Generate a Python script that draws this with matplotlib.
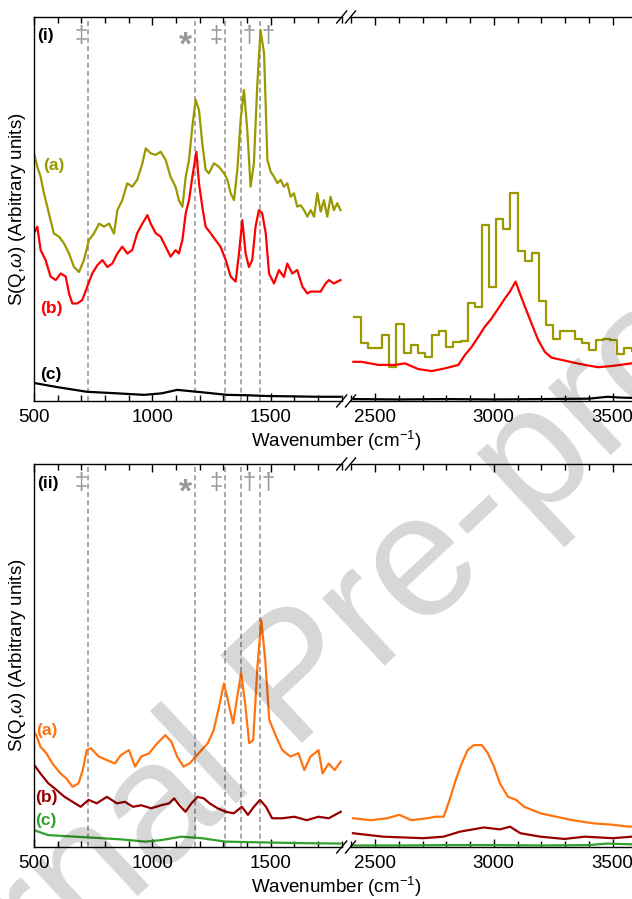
import matplotlib
matplotlib.use("Agg")
import matplotlib.pyplot as plt
from matplotlib.lines import Line2D
from matplotlib.ticker import MultipleLocator

plt.rcParams['font.family'] = ['Liberation Sans', 'DejaVu Sans']
plt.rcParams['mathtext.fontset'] = 'custom'
plt.rcParams['mathtext.rm'] = 'Liberation Sans'
plt.rcParams['mathtext.it'] = 'Liberation Sans:italic'

# ---- panel (i), 500-1800 cm-1 ----
x_i_a = [500, 514, 528, 542, 556, 570, 584, 606, 627, 648, 669, 690, 711, 732, 753, 775, 796,
         817, 838, 852, 873, 894, 915, 936, 958, 972, 993, 1014, 1035, 1056, 1077, 1098, 1112,
         1127, 1141, 1155, 1169, 1183, 1197, 1211, 1225, 1239, 1260, 1281, 1303, 1317, 1331,
         1345, 1359, 1373, 1387, 1401, 1415, 1429, 1443, 1457, 1472, 1486, 1500, 1514, 1528,
         1542, 1556, 1570, 1584, 1598, 1612, 1626, 1641, 1655, 1669, 1683, 1697, 1711, 1725,
         1739, 1753, 1767, 1781, 1795]
y_i_a = [0.645, 0.610, 0.584, 0.541, 0.506, 0.471, 0.436, 0.428, 0.410, 0.384, 0.349, 0.336,
         0.367, 0.419, 0.436, 0.462, 0.454, 0.462, 0.436, 0.497, 0.523, 0.567, 0.558, 0.576,
         0.619, 0.658, 0.645, 0.641, 0.649, 0.628, 0.584, 0.558, 0.523, 0.506, 0.584, 0.628,
         0.715, 0.784, 0.758, 0.671, 0.602, 0.593, 0.619, 0.610, 0.593, 0.576, 0.541, 0.523,
         0.602, 0.732, 0.810, 0.706, 0.558, 0.619, 0.819, 0.966, 0.905, 0.628, 0.597, 0.584,
         0.567, 0.576, 0.558, 0.567, 0.532, 0.541, 0.506, 0.510, 0.497, 0.480, 0.497, 0.480,
         0.541, 0.493, 0.523, 0.480, 0.532, 0.497, 0.515, 0.497]

x_i_b = [500, 514, 528, 549, 570, 592, 613, 634, 648, 662, 683, 704, 725, 746, 768, 789, 810,
         831, 852, 873, 894, 915, 936, 958, 979, 993, 1014, 1035, 1056, 1077, 1098, 1112, 1127,
         1141, 1155, 1169, 1186, 1197, 1211, 1225, 1246, 1267, 1288, 1310, 1331, 1352, 1366,
         1380, 1394, 1408, 1422, 1436, 1450, 1464, 1479, 1493, 1514, 1535, 1556, 1570, 1591,
         1612, 1634, 1655, 1669, 1690, 1711, 1732, 1746, 1767, 1795]
y_i_b = [0.437, 0.454, 0.393, 0.367, 0.324, 0.315, 0.332, 0.324, 0.280, 0.254, 0.254, 0.263,
         0.298, 0.332, 0.354, 0.367, 0.349, 0.358, 0.384, 0.402, 0.384, 0.393, 0.437, 0.462,
         0.484, 0.462, 0.437, 0.428, 0.402, 0.376, 0.393, 0.384, 0.419, 0.489, 0.523, 0.584,
         0.649, 0.567, 0.506, 0.454, 0.437, 0.419, 0.402, 0.367, 0.324, 0.311, 0.384, 0.471,
         0.384, 0.349, 0.367, 0.454, 0.497, 0.489, 0.437, 0.332, 0.306, 0.341, 0.323, 0.358,
         0.332, 0.341, 0.298, 0.280, 0.285, 0.285, 0.285, 0.306, 0.315, 0.306, 0.315]

x_i_c = [500, 600, 724, 850, 965, 1040, 1105, 1205, 1315, 1400, 1484, 1600, 1700, 1795]
y_i_c = [0.047, 0.036, 0.024, 0.020, 0.016, 0.020, 0.029, 0.023, 0.016, 0.015, 0.013, 0.012,
         0.011, 0.011]

# ---- panel (i), 2400-3600 cm-1 ----
bins_i_a = [2410 + 30 * k for k in range(41)]
vals_i_a = [0.220, 0.152, 0.137, 0.137, 0.173, 0.089, 0.200, 0.124, 0.146, 0.126, 0.114,
            0.171, 0.183, 0.141, 0.154, 0.157, 0.256, 0.244, 0.458, 0.296, 0.473, 0.448,
            0.541, 0.391, 0.365, 0.386, 0.260, 0.197, 0.161, 0.182, 0.182, 0.161, 0.150,
            0.133, 0.159, 0.162, 0.159, 0.122, 0.139, 0.130, 0.135]

x_i_b2 = [2409, 2444, 2514, 2584, 2626, 2683, 2739, 2795, 2851, 2879, 2907, 2935, 2963, 2991,
          3019, 3047, 3068, 3092, 3110, 3131, 3159, 3187, 3215, 3243, 3286, 3328, 3384, 3440,
          3496, 3580, 3650]
y_i_b2 = [0.102, 0.102, 0.094, 0.094, 0.098, 0.083, 0.078, 0.085, 0.094, 0.120, 0.141, 0.167,
          0.194, 0.215, 0.241, 0.267, 0.285, 0.311, 0.280, 0.246, 0.202, 0.159, 0.128, 0.113,
          0.107, 0.101, 0.094, 0.088, 0.091, 0.098, 0.100]

x_i_c2 = [2410, 2600, 2800, 3000, 3200, 3400, 3480, 3530, 3650]
y_i_c2 = [0.005, 0.004, 0.005, 0.004, 0.005, 0.006, 0.011, 0.009, 0.007]

# ---- panel (ii), 500-1800 cm-1 ----
x_ii_a = [500, 510, 527, 552, 578, 612, 637, 663, 688, 706, 723, 740, 774, 808, 842, 867, 901,
          927, 953, 987, 1021, 1055, 1080, 1105, 1131, 1157, 1183, 1208, 1234, 1259, 1285,
          1302, 1319, 1341, 1361, 1375, 1392, 1409, 1426, 1443, 1460, 1477, 1494, 1523, 1549,
          1583, 1617, 1642, 1668, 1702, 1719, 1745, 1770, 1796]
y_ii_a = [0.300, 0.292, 0.262, 0.245, 0.218, 0.192, 0.179, 0.157, 0.166, 0.201, 0.253, 0.258,
          0.236, 0.227, 0.218, 0.240, 0.253, 0.210, 0.236, 0.245, 0.271, 0.292, 0.275, 0.236,
          0.210, 0.218, 0.236, 0.253, 0.271, 0.305, 0.375, 0.427, 0.384, 0.323, 0.401, 0.454,
          0.375, 0.271, 0.279, 0.462, 0.593, 0.488, 0.332, 0.288, 0.253, 0.236, 0.245, 0.201,
          0.236, 0.253, 0.192, 0.218, 0.201, 0.223]

x_ii_b = [500, 506, 527, 561, 595, 629, 663, 697, 731, 765, 808, 850, 884, 918, 953, 995, 1037,
          1071, 1092, 1114, 1140, 1165, 1191, 1217, 1242, 1276, 1310, 1344, 1378, 1404, 1429,
          1455, 1480, 1506, 1549, 1600, 1652, 1702, 1745, 1796]
y_ii_b = [0.215, 0.210, 0.192, 0.166, 0.149, 0.131, 0.118, 0.105, 0.123, 0.114, 0.131, 0.114,
          0.118, 0.105, 0.109, 0.101, 0.109, 0.114, 0.127, 0.109, 0.092, 0.114, 0.131, 0.127,
          0.114, 0.101, 0.092, 0.088, 0.105, 0.084, 0.105, 0.123, 0.105, 0.075, 0.075, 0.079,
          0.070, 0.079, 0.075, 0.092]

x_ii_c = [500, 560, 731, 867, 970, 1037, 1123, 1208, 1310, 1463, 1635, 1795]
y_ii_c = [0.044, 0.031, 0.025, 0.020, 0.014, 0.018, 0.027, 0.023, 0.014, 0.012, 0.010, 0.009]

# ---- panel (ii), 2400-3600 cm-1 ----
x_ii_a2 = [2407, 2483, 2551, 2602, 2653, 2720, 2755, 2789, 2814, 2840, 2865, 2890, 2916, 2950,
           2975, 3001, 3026, 3060, 3094, 3128, 3196, 3264, 3332, 3417, 3502, 3569, 3650]
y_ii_a2 = [0.075, 0.070, 0.075, 0.084, 0.070, 0.075, 0.079, 0.079, 0.123, 0.175, 0.218, 0.253,
           0.266, 0.266, 0.245, 0.210, 0.166, 0.131, 0.123, 0.105, 0.088, 0.079, 0.070, 0.062,
           0.058, 0.053, 0.055]

x_ii_b2 = [2407, 2534, 2704, 2789, 2857, 2958, 3026, 3069, 3112, 3196, 3298, 3383, 3502, 3582,
           3650]
y_ii_b2 = [0.036, 0.027, 0.023, 0.027, 0.040, 0.051, 0.046, 0.053, 0.036, 0.027, 0.021, 0.027,
           0.023, 0.027, 0.027]

x_ii_c2 = [2410, 2600, 2800, 3000, 3200, 3400, 3480, 3520, 3650]
y_ii_c2 = [0.004, 0.004, 0.005, 0.005, 0.004, 0.005, 0.009, 0.008, 0.006]

# band assignments
band_pos = [730, 1180, 1305, 1375, 1455]
mark_x = [700, 1140, 1270, 1408, 1487]
mark_txt = ['‡', '*', '‡', '†', '†']

W, H = 632, 899
fig = plt.figure(figsize=(W / 100, H / 100), dpi=100)


def fx(px):
    return px / W


def fy(py):
    return 1 - py / H


def make_panel(top, bottom):
    h = (bottom - top) / H
    axl = fig.add_axes([fx(34), fy(bottom), (1800 - 500) * 0.2367 / W, h])
    axr = fig.add_axes([fx(351.25), fy(bottom), (4000 - 2400) * 0.2375 / W, h])
    axl.set_xlim(500, 1800)
    axr.set_xlim(2400, 4000)
    for ax in (axl, axr):
        ax.set_ylim(0, 1)
        ax.set_facecolor('none')
        ax.xaxis.set_major_locator(MultipleLocator(500))
        ax.xaxis.set_minor_locator(MultipleLocator(100))
        ax.tick_params(axis='x', which='both', direction='in', top=True, labelsize=13.5,
                       width=1.0, pad=6)
        ax.tick_params(axis='x', which='major', length=6)
        ax.tick_params(axis='x', which='minor', length=4)
        ax.set_yticks([])
        for s in ax.spines.values():
            s.set_linewidth(1.0)
    axl.spines['right'].set_visible(False)
    axr.spines['left'].set_visible(False)
    # axis-break marks
    for cx in (341.7, 350.5):
        for cy in (top, bottom):
            fig.add_artist(Line2D([fx(cx - 5), fx(cx + 5)], [fy(cy + 6), fy(cy - 6)],
                                  transform=fig.transFigure, color='black', lw=1.0))
    for xv in band_pos:
        axl.axvline(xv, color='#999999', ls='--', lw=1.2, dashes=(3, 2), zorder=1)
    for xm, t in zip(mark_x, mark_txt):
        if t == '*':
            axl.text(xm, 0.925, t, color='#999999', fontsize=24, ha='center', va='center',
                     fontweight='bold')
        else:
            axl.text(xm, 0.950, t, color='#999999', fontsize=17, ha='center', va='center')
    axl.set_ylabel(r'S(Q,$\omega$) (Arbitrary units)', fontsize=13.5, labelpad=4)
    fig.text(fx(336), fy(bottom + 40), r'Wavenumber (cm$^{-1}$)', fontsize=13.5,
             ha='center', va='center')
    return axl, axr


lw = 1.6
olive, red = '#9a9a00', '#ff0000'
orange, dred, green = '#ff7410', '#990000', '#33a02c'

# panel (i)
a1, a2 = make_panel(17, 401)
a1.plot(x_i_a, y_i_a, color=olive, lw=lw)
a1.plot(x_i_b, y_i_b, color=red, lw=lw)
a1.plot(x_i_c, y_i_c, color='black', lw=lw)
a2.step(bins_i_a, vals_i_a, where='post', color=olive, lw=lw)
a2.plot(x_i_b2, y_i_b2, color=red, lw=lw)
a2.plot(x_i_c2, y_i_c2, color='black', lw=lw)
a1.text(0.01, 0.953, '(i)', transform=a1.transAxes, fontsize=12.5, fontweight='bold',
        va='center')
a1.text(538, 0.612, '(a)', color=olive, fontsize=12.5, fontweight='bold', va='center')
a1.text(525, 0.242, '(b)', color=red, fontsize=12.5, fontweight='bold', va='center')
a1.text(525, 0.068, '(c)', color='black', fontsize=12.5, fontweight='bold', va='center')

# panel (ii)
b1, b2 = make_panel(464, 847)
b1.plot(x_ii_a, y_ii_a, color=orange, lw=lw)
b1.plot(x_ii_b, y_ii_b, color=dred, lw=lw)
b1.plot(x_ii_c, y_ii_c, color=green, lw=lw)
b2.plot(x_ii_a2, y_ii_a2, color=orange, lw=lw)
b2.plot(x_ii_b2, y_ii_b2, color=dred, lw=lw)
b2.plot(x_ii_c2, y_ii_c2, color=green, lw=lw)
b1.text(0.01, 0.950, '(ii)', transform=b1.transAxes, fontsize=12.5, fontweight='bold',
        va='center')
b1.text(508, 0.305, '(a)', color=orange, fontsize=12.5, fontweight='bold', va='center')
b1.text(505, 0.128, '(b)', color=dred, fontsize=12.5, fontweight='bold', va='center')
b1.text(505, 0.070, '(c)', color=green, fontsize=12.5, fontweight='bold', va='center')

# watermark
fig.text(fx(300), fy(683), 'Journal Pre-proof', fontsize=125, color='black', alpha=0.16,
         rotation=43, rotation_mode='anchor', ha='center', va='center', zorder=10)

fig.savefig('out.png', dpi=100)
